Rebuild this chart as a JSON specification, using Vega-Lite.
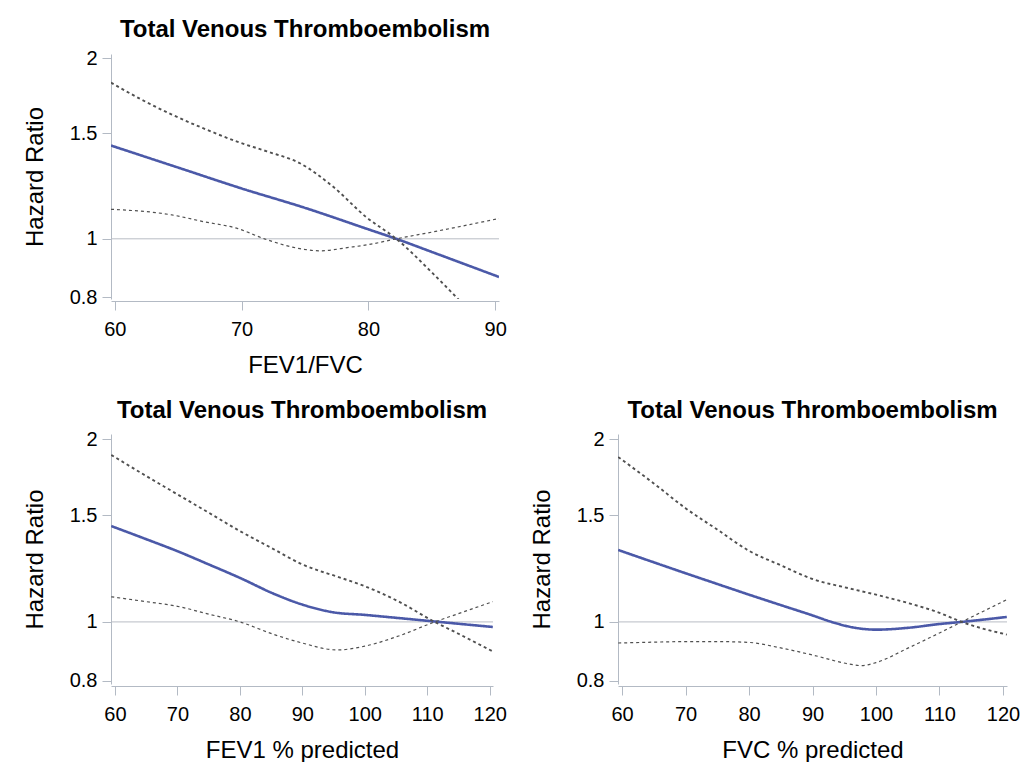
{
 "$schema": "https://vega.github.io/schema/vega-lite/v6.json",
 "padding": {"left": 23, "top": 18, "right": 0, "bottom": 0},
 "background": "white",
 "bounds": "flush",
 "spacing": 135,
 "config": {
  "view": {"stroke": null},
  "font": "Liberation Sans",
  "axis": {"grid": false, "domainColor": "#b3bac4", "tickColor": "#b3bac4", "labelColor": "#000", "titleColor": "#000", "labelFont": "Liberation Sans", "titleFont": "Liberation Sans", "labelFontSize": 20, "titleFontSize": 24, "titleFontWeight": "normal", "labelFlush": false, "labelOverlap": false},
  "axisX": {"tickSize": 9, "labelPadding": 9, "titlePadding": 14, "offset": 2},
  "axisY": {"tickSize": 9, "labelPadding": 5, "titlePadding": 22},
  "title": {"font": "Liberation Sans", "fontSize": 24, "fontWeight": "bold", "color": "#000", "anchor": "middle", "baseline": "alphabetic", "offset": 6}
 },
 "datasets": {
  "p1": [
   {"x": 59.7, "hr": 1.43, "s": "Estimate"}, {"x": 65, "hr": 1.314, "s": "Estimate"}, {"x": 70, "hr": 1.213, "s": "Estimate"}, {"x": 75, "hr": 1.126, "s": "Estimate"}, {"x": 80, "hr": 1.037, "s": "Estimate"}, {"x": 82.2, "hr": 1.0, "s": "Estimate"}, {"x": 85, "hr": 0.951, "s": "Estimate"}, {"x": 90.3, "hr": 0.864, "s": "Estimate"},
   {"x": 59.7, "hr": 1.82, "s": "Upper"}, {"x": 62, "hr": 1.71, "s": "Upper"}, {"x": 64.5, "hr": 1.61, "s": "Upper"}, {"x": 67, "hr": 1.527, "s": "Upper"}, {"x": 69.7, "hr": 1.45, "s": "Upper"}, {"x": 72, "hr": 1.398, "s": "Upper"}, {"x": 74.6, "hr": 1.336, "s": "Upper"}, {"x": 77.2, "hr": 1.222, "s": "Upper"}, {"x": 79.8, "hr": 1.088, "s": "Upper"}, {"x": 82.2, "hr": 1.0, "s": "Upper"}, {"x": 85.1, "hr": 0.875, "s": "Upper"}, {"x": 87.3, "hr": 0.785, "s": "Upper"}, {"x": 89, "hr": 0.72, "s": "Upper"},
   {"x": 59.7, "hr": 1.12, "s": "Lower"}, {"x": 64.5, "hr": 1.096, "s": "Lower"}, {"x": 67, "hr": 1.068, "s": "Lower"}, {"x": 69.7, "hr": 1.04, "s": "Lower"}, {"x": 71.8, "hr": 1.0, "s": "Lower"}, {"x": 74.6, "hr": 0.963, "s": "Lower"}, {"x": 76.2, "hr": 0.955, "s": "Lower"}, {"x": 78.5, "hr": 0.968, "s": "Lower"}, {"x": 80, "hr": 0.978, "s": "Lower"}, {"x": 82.2, "hr": 1.0, "s": "Lower"}, {"x": 85.1, "hr": 1.027, "s": "Lower"}, {"x": 90.3, "hr": 1.081, "s": "Lower"}
  ],
  "p2": [
   {"x": 59.4, "hr": 1.439, "s": "Estimate"}, {"x": 65, "hr": 1.369, "s": "Estimate"}, {"x": 70, "hr": 1.308, "s": "Estimate"}, {"x": 75, "hr": 1.244, "s": "Estimate"}, {"x": 80, "hr": 1.182, "s": "Estimate"}, {"x": 85.5, "hr": 1.112, "s": "Estimate"}, {"x": 90, "hr": 1.068, "s": "Estimate"}, {"x": 95, "hr": 1.037, "s": "Estimate"}, {"x": 100, "hr": 1.027, "s": "Estimate"}, {"x": 105.3, "hr": 1.015, "s": "Estimate"}, {"x": 110.6, "hr": 1.003, "s": "Estimate"}, {"x": 115, "hr": 0.993, "s": "Estimate"}, {"x": 120.5, "hr": 0.981, "s": "Estimate"},
   {"x": 59.4, "hr": 1.885, "s": "Upper"}, {"x": 65, "hr": 1.74, "s": "Upper"}, {"x": 70, "hr": 1.623, "s": "Upper"}, {"x": 75, "hr": 1.514, "s": "Upper"}, {"x": 80, "hr": 1.412, "s": "Upper"}, {"x": 85, "hr": 1.325, "s": "Upper"}, {"x": 90, "hr": 1.244, "s": "Upper"}, {"x": 96.2, "hr": 1.182, "s": "Upper"}, {"x": 100, "hr": 1.145, "s": "Upper"}, {"x": 105.3, "hr": 1.082, "s": "Upper"}, {"x": 111.2, "hr": 1.0, "s": "Upper"}, {"x": 115, "hr": 0.956, "s": "Upper"}, {"x": 120.5, "hr": 0.894, "s": "Upper"},
   {"x": 59.4, "hr": 1.10, "s": "Lower"}, {"x": 65, "hr": 1.08, "s": "Lower"}, {"x": 70, "hr": 1.061, "s": "Lower"}, {"x": 75, "hr": 1.03, "s": "Lower"}, {"x": 80, "hr": 1.0, "s": "Lower"}, {"x": 85.5, "hr": 0.953, "s": "Lower"}, {"x": 90, "hr": 0.923, "s": "Lower"}, {"x": 95.5, "hr": 0.899, "s": "Lower"}, {"x": 100, "hr": 0.912, "s": "Lower"}, {"x": 105.3, "hr": 0.947, "s": "Lower"}, {"x": 111.2, "hr": 1.0, "s": "Lower"}, {"x": 115, "hr": 1.032, "s": "Lower"}, {"x": 120.5, "hr": 1.08, "s": "Lower"}
  ],
  "p3": [
   {"x": 59.4, "hr": 1.314, "s": "Estimate"}, {"x": 65, "hr": 1.254, "s": "Estimate"}, {"x": 70, "hr": 1.203, "s": "Estimate"}, {"x": 75, "hr": 1.155, "s": "Estimate"}, {"x": 80, "hr": 1.109, "s": "Estimate"}, {"x": 85, "hr": 1.066, "s": "Estimate"}, {"x": 90, "hr": 1.025, "s": "Estimate"}, {"x": 93, "hr": 1.0, "s": "Estimate"}, {"x": 96.7, "hr": 0.978, "s": "Estimate"}, {"x": 100, "hr": 0.971, "s": "Estimate"}, {"x": 105.1, "hr": 0.978, "s": "Estimate"}, {"x": 110, "hr": 0.992, "s": "Estimate"}, {"x": 113.5, "hr": 1.0, "s": "Estimate"}, {"x": 120.6, "hr": 1.019, "s": "Estimate"},
   {"x": 59.4, "hr": 1.87, "s": "Upper"}, {"x": 65, "hr": 1.692, "s": "Upper"}, {"x": 70, "hr": 1.54, "s": "Upper"}, {"x": 75, "hr": 1.42, "s": "Upper"}, {"x": 80, "hr": 1.31, "s": "Upper"}, {"x": 85, "hr": 1.24, "s": "Upper"}, {"x": 90, "hr": 1.177, "s": "Upper"}, {"x": 95.6, "hr": 1.137, "s": "Upper"}, {"x": 100, "hr": 1.109, "s": "Upper"}, {"x": 105.1, "hr": 1.074, "s": "Upper"}, {"x": 110, "hr": 1.035, "s": "Upper"}, {"x": 113.5, "hr": 1.0, "s": "Upper"}, {"x": 120.6, "hr": 0.953, "s": "Upper"},
   {"x": 59.4, "hr": 0.923, "s": "Lower"}, {"x": 65, "hr": 0.926, "s": "Lower"}, {"x": 70, "hr": 0.928, "s": "Lower"}, {"x": 75, "hr": 0.928, "s": "Lower"}, {"x": 80, "hr": 0.925, "s": "Lower"}, {"x": 85, "hr": 0.906, "s": "Lower"}, {"x": 90, "hr": 0.882, "s": "Lower"}, {"x": 95.6, "hr": 0.853, "s": "Lower"}, {"x": 97.7, "hr": 0.847, "s": "Lower"}, {"x": 100, "hr": 0.857, "s": "Lower"}, {"x": 105.1, "hr": 0.906, "s": "Lower"}, {"x": 110, "hr": 0.959, "s": "Lower"}, {"x": 113.5, "hr": 1.0, "s": "Lower"}, {"x": 120.6, "hr": 1.088, "s": "Lower"}
  ]
 },
 "vconcat": [
  {
   "width": 388, "height": 245,
   "title": "Total Venous Thromboembolism",
   "layer": [
    {"data": {"values": [{}]}, "mark": {"type": "rule", "color": "#b8bcc4", "strokeWidth": 1},
     "encoding": {"y": {"datum": 1, "type": "quantitative", "scale": {"type": "log", "domain": [0.794, 2.031], "nice": false}, "axis": {"title": "Hazard Ratio", "values": [0.8, 1, 1.5, 2], "format": "~g"}}}},
    {"data": {"name": "p1"}, "mark": {"type": "line", "interpolate": "monotone", "clip": true},
     "encoding": {
      "x": {"field": "x", "type": "quantitative", "scale": {"domain": [59.7, 90.3], "nice": false, "zero": false}, "axis": {"title": "FEV1/FVC", "values": [60, 70, 80, 90]}},
      "y": {"field": "hr", "type": "quantitative", "scale": {"type": "log", "domain": [0.794, 2.031], "nice": false}, "axis": {"title": "Hazard Ratio", "values": [0.8, 1, 1.5, 2], "format": "~g"}},
      "color": {"field": "s", "type": "nominal", "scale": {"domain": ["Estimate", "Upper", "Lower"], "range": ["#4b59a8", "#505050", "#505050"]}, "legend": null},
      "strokeDash": {"field": "s", "type": "nominal", "scale": {"domain": ["Estimate", "Upper", "Lower"], "range": [[1, 0], [3, 3], [3, 3]]}, "legend": null},
      "strokeWidth": {"field": "s", "type": "nominal", "scale": {"domain": ["Estimate", "Upper", "Lower"], "range": [2.6, 1.2, 1.2]}, "legend": null}
     }}
   ]
  },
  {
   "hconcat": [
    {
     "width": 382, "height": 250,
     "title": "Total Venous Thromboembolism",
     "layer": [
      {"data": {"values": [{}]}, "mark": {"type": "rule", "color": "#b8bcc4", "strokeWidth": 1},
       "encoding": {"y": {"datum": 1, "type": "quantitative", "scale": {"type": "log", "domain": [0.79, 2.041], "nice": false}, "axis": {"title": "Hazard Ratio", "values": [0.8, 1, 1.5, 2], "format": "~g"}}}},
      {"data": {"name": "p2"}, "mark": {"type": "line", "interpolate": "monotone", "clip": true},
       "encoding": {
        "x": {"field": "x", "type": "quantitative", "scale": {"domain": [59.36, 120.53], "nice": false, "zero": false}, "axis": {"title": "FEV1 % predicted", "values": [60, 70, 80, 90, 100, 110, 120]}},
        "y": {"field": "hr", "type": "quantitative", "scale": {"type": "log", "domain": [0.79, 2.041], "nice": false}, "axis": {"title": "Hazard Ratio", "values": [0.8, 1, 1.5, 2], "format": "~g"}},
        "color": {"field": "s", "type": "nominal", "scale": {"domain": ["Estimate", "Upper", "Lower"], "range": ["#4b59a8", "#505050", "#505050"]}, "legend": null},
        "strokeDash": {"field": "s", "type": "nominal", "scale": {"domain": ["Estimate", "Upper", "Lower"], "range": [[1, 0], [3, 3], [3, 3]]}, "legend": null},
        "strokeWidth": {"field": "s", "type": "nominal", "scale": {"domain": ["Estimate", "Upper", "Lower"], "range": [2.6, 1.2, 1.2]}, "legend": null}
       }}
     ]
    },
    {
     "width": 389, "height": 250,
     "title": "Total Venous Thromboembolism",
     "layer": [
      {"data": {"values": [{}]}, "mark": {"type": "rule", "color": "#b8bcc4", "strokeWidth": 1},
       "encoding": {"y": {"datum": 1, "type": "quantitative", "scale": {"type": "log", "domain": [0.79, 2.041], "nice": false}, "axis": {"title": "Hazard Ratio", "values": [0.8, 1, 1.5, 2], "format": "~g"}}}},
      {"data": {"name": "p3"}, "mark": {"type": "line", "interpolate": "monotone", "clip": true},
       "encoding": {
        "x": {"field": "x", "type": "quantitative", "scale": {"domain": [59.37, 120.63], "nice": false, "zero": false}, "axis": {"title": "FVC % predicted", "values": [60, 70, 80, 90, 100, 110, 120]}},
        "y": {"field": "hr", "type": "quantitative", "scale": {"type": "log", "domain": [0.79, 2.041], "nice": false}, "axis": {"title": "Hazard Ratio", "values": [0.8, 1, 1.5, 2], "format": "~g"}},
        "color": {"field": "s", "type": "nominal", "scale": {"domain": ["Estimate", "Upper", "Lower"], "range": ["#4b59a8", "#505050", "#505050"]}, "legend": null},
        "strokeDash": {"field": "s", "type": "nominal", "scale": {"domain": ["Estimate", "Upper", "Lower"], "range": [[1, 0], [3, 3], [3, 3]]}, "legend": null},
        "strokeWidth": {"field": "s", "type": "nominal", "scale": {"domain": ["Estimate", "Upper", "Lower"], "range": [2.6, 1.2, 1.2]}, "legend": null}
       }}
     ]
    }
   ],
   "spacing": 125,
   "bounds": "flush"
  }
 ]
}
